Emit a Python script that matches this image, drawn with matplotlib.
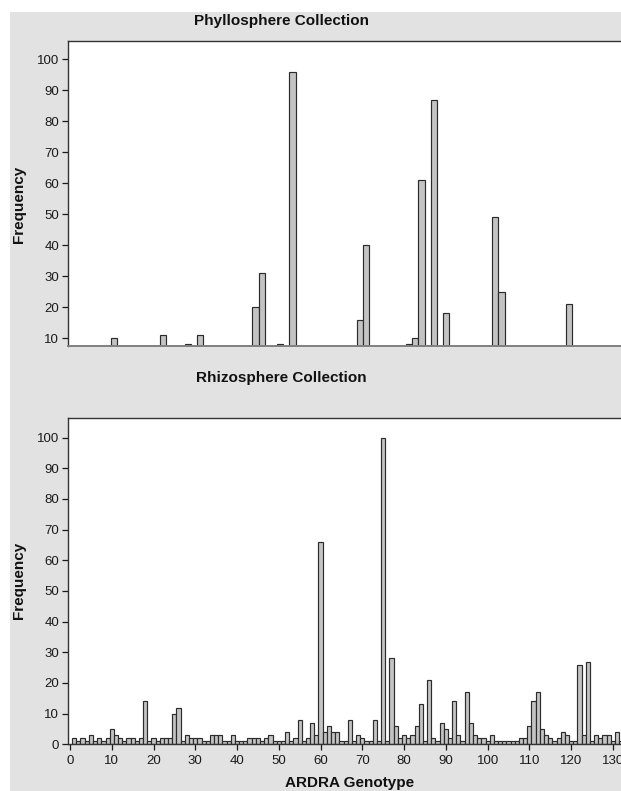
import numpy as np
import matplotlib.pyplot as plt
from matplotlib.patches import Rectangle

plt.rcParams['font.family'] = ['Liberation Sans', 'DejaVu Sans']

# Phyllosphere collection: genotype slot and frequency
phyllo_slots = [7, 15, 19, 21, 30, 31, 34, 36, 47, 48, 55, 56, 57, 59, 61, 69, 70, 81]
phyllo_counts = [10, 11, 8, 11, 20, 31, 8, 96, 16, 40, 8, 10, 61, 87, 18, 49, 25, 21]

# Rhizosphere collection: frequency of genotypes 1..132
rhizo_counts = [
    2, 1, 2, 1, 3, 1, 2, 1, 2, 5,
    3, 2, 1, 2, 2, 1, 2, 14, 1, 2,
    1, 2, 2, 2, 10, 12, 1, 3, 2, 2,
    2, 1, 1, 3, 3, 3, 1, 1, 3, 1,
    1, 1, 2, 2, 2, 1, 2, 3, 1, 1,
    1, 4, 1, 2, 8, 1, 2, 7, 3, 66,
    4, 6, 4, 4, 1, 1, 8, 1, 3, 2,
    1, 1, 8, 1, 100, 1, 28, 6, 2, 3,
    2, 3, 6, 13, 1, 21, 2, 1, 7, 5,
    2, 14, 3, 1, 17, 7, 3, 2, 2, 1,
    3, 1, 1, 1, 1, 1, 1, 2, 2, 6,
    14, 17, 5, 3, 2, 1, 2, 4, 3, 1,
    1, 26, 3, 27, 1, 3, 2, 3, 3, 1,
    4, 1,
]
rhizo_genotypes = np.arange(1, len(rhizo_counts) + 1)

x_ticks = list(range(0, 131, 10))
top_yticks = list(range(10, 101, 10))
bot_yticks = list(range(0, 101, 10))

W, H = 621, 791
panel = '#e2e2e2'
bar_fill = '#c3c3c3'
bar_edge = '#2b2b2b'

fig = plt.figure(figsize=(W / 100, H / 100), dpi=100)
fig.add_artist(Rectangle((9.5 / W, 0), 1, 1 - 12 / H, transform=fig.transFigure,
                         facecolor=panel, edgecolor='none', zorder=-10))


def px_axes(left, top, right, bottom):
    return fig.add_axes([left / W, 1 - bottom / H, (right - left) / W, (bottom - top) / H])


# top panel
ax1 = px_axes(68, 40.7, 630, 345.7)
ax1.bar(phyllo_slots, phyllo_counts, width=1.0, color=bar_fill,
        edgecolor=bar_edge, linewidth=0.85)
ax1.set_xlim(-0.5, 90.9)
ax1.set_ylim(7.6, 106)
ax1.set_yticks(top_yticks)
ax1.set_xticks([])
ax1.tick_params(axis='y', direction='out', length=4.5, width=0.9, pad=2,
                labelsize=9.5, colors='#1a1a1a')
for s in ['left', 'top']:
    ax1.spines[s].set_color('#333333')
    ax1.spines[s].set_linewidth(1.0)
ax1.spines['right'].set_visible(False)
ax1.spines['bottom'].set_color('#808080')
ax1.spines['bottom'].set_linewidth(1.4)

# bottom panel
ax2 = px_axes(68, 417.7, 630, 744.3)
ax2.bar(rhizo_genotypes, rhizo_counts, width=1.0, color=bar_fill,
        edgecolor=bar_edge, linewidth=0.85)
ax2.set_xlim(-0.48, 134.1)
ax2.set_ylim(0, 106.5)
ax2.set_yticks(bot_yticks)
ax2.set_xticks(x_ticks)
ax2.tick_params(direction='out', length=4.5, width=0.9, labelsize=9.5,
                colors='#1a1a1a')
ax2.tick_params(axis='y', pad=2)
ax2.tick_params(axis='x', pad=3)
for s in ['left', 'top', 'bottom']:
    ax2.spines[s].set_color('#333333')
    ax2.spines[s].set_linewidth(1.0)
ax2.spines['right'].set_visible(False)

# texts
fig.text(281 / W, 1 - 20.7 / H, 'Phyllosphere Collection', ha='center', va='center',
         fontsize=11, fontweight='bold', color='#111111')
fig.text(281 / W, 1 - 378 / H, 'Rhizosphere Collection', ha='center', va='center',
         fontsize=11, fontweight='bold', color='#111111')
fig.text(19 / W, 1 - 204 / H, 'Frequency', rotation=90, ha='center', va='center',
         fontsize=11, fontweight='bold', color='#111111')
fig.text(19 / W, 1 - 580 / H, 'Frequency', rotation=90, ha='center', va='center',
         fontsize=11, fontweight='bold', color='#111111')
fig.text(350 / W, 1 - 787.3 / H, 'ARDRA Genotype', ha='center', va='baseline',
         fontsize=11, fontweight='bold', color='#111111')

fig.savefig('out.png', dpi=100)
